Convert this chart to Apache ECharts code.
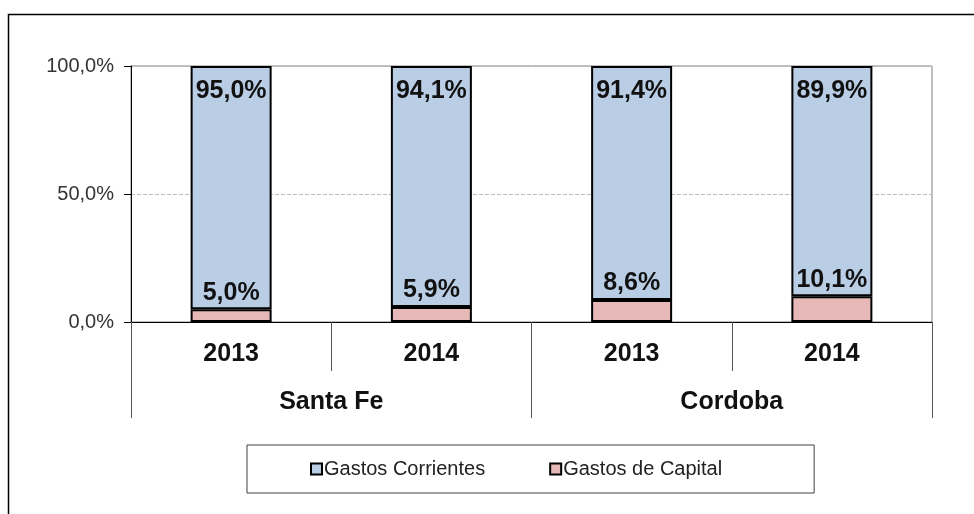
<!DOCTYPE html>
<html>
<head>
<meta charset="utf-8">
<script src="https://cdn.jsdelivr.net/npm/echarts@6/dist/echarts.min.js"></script>
<style>
  html, body { margin: 0; padding: 0; background: #fff; }
  #chart { width: 974px; height: 514px; }
</style>
</head>
<body>
<div id="chart"></div>
<script>
document.addEventListener('DOMContentLoaded', function() {

    // Data ------------------------------------------------------------
    const years = ['2013', '2014', '2013', '2014'];
    const provinces = ['Santa Fe', 'Cordoba'];
    const gastosCorrientes = [95.0, 94.1, 91.4, 89.9];
    const gastosCapital = [5.0, 5.9, 8.6, 10.1];

    const pct = (v) => v.toFixed(1).replace('.', ',') + '%';
    const font = 'Liberation Sans, Arial, sans-serif';

    const chart = echarts.init(document.getElementById('chart'));

    chart.setOption({
        animation: false,
        textStyle: {fontFamily: font},
        graphic: [{
            type: 'rect',
            shape: {x: 8.5, y: 14.5, width: 1200, height: 800},
            style: {fill: 'none', stroke: '#000', lineWidth: 1.5},
            silent: true
        }],
        grid: {
            left: 131, right: 42, top: 66, bottom: 192,
            show: true, borderColor: '#808080', borderWidth: 1
        },
        legend: {
            left: 247, top: 445,
            padding: [14, 92, 14, 63],
            borderColor: '#404040', borderWidth: 1,
            itemGap: 64,
            itemWidth: 11, itemHeight: 11,
            icon: 'rect',
            textStyle: {fontSize: 20, color: '#222', fontFamily: font, padding: [0, 0, 0, -3]},
            data: ['Gastos Corrientes', 'Gastos de Capital']
        },
        xAxis: [
            {
                type: 'category',
                data: years,
                axisLine: {lineStyle: {color: '#000', width: 1}},
                axisTick: {show: true, length: 49, lineStyle: {color: '#555'}},
                axisLabel: {fontSize: 25, fontWeight: 'bold', color: '#111', margin: 20}
            },
            {
                type: 'category',
                position: 'bottom',
                data: provinces,
                axisLine: {show: false},
                axisTick: {show: true, length: 96, lineStyle: {color: '#555'}},
                axisLabel: {fontSize: 25, fontWeight: 'bold', color: '#111', margin: 68}
            }
        ],
        yAxis: {
            type: 'value',
            min: 0, max: 100, interval: 50,
            axisLine: {show: true, lineStyle: {color: '#000'}},
            axisTick: {show: true, length: 7, lineStyle: {color: '#000'}},
            axisLabel: {formatter: (v) => pct(v), fontSize: 20, color: '#333', margin: 17},
            splitLine: {show: true, lineStyle: {color: '#bbb', type: 'dashed'}}
        },
        series: [
            {
                name: 'Gastos de Capital',
                type: 'bar',
                stack: 'total',
                barWidth: 81,
                data: gastosCapital,
                itemStyle: {color: '#e6b9b8', borderColor: '#000', borderWidth: 2},
                label: {
                    show: true, position: 'top', distance: 4,
                    formatter: (p) => pct(p.value),
                    fontSize: 25, fontWeight: 'bold', color: '#111'
                }
            },
            {
                name: 'Gastos Corrientes',
                type: 'bar',
                stack: 'total',
                barWidth: 81,
                data: gastosCorrientes,
                itemStyle: {color: '#b9cde5', borderColor: '#000', borderWidth: 2},
                label: {
                    show: true, position: 'insideTop', distance: 13,
                    formatter: (p) => pct(p.value),
                    fontSize: 25, fontWeight: 'bold', color: '#111'
                }
            }
        ]
    });

});
</script>
</body>
</html>
